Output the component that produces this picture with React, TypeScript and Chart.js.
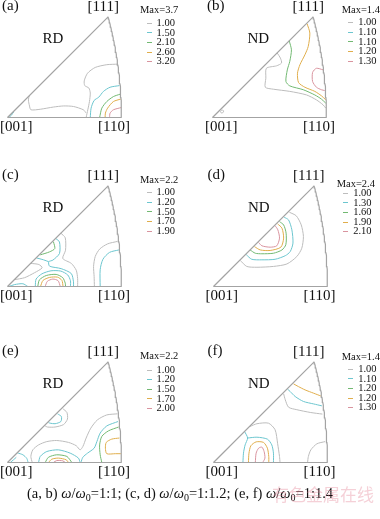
import React, { useEffect, useRef } from "react";
import { Chart, registerables } from "chart.js";

Chart.register(...registerables);

type P = [number, number];

// Stereographic IPF coordinates (x1000). [001] at (0,0), [110] at (414,0), [111] at (366,366)

// ---------- (a) RD, w/w0 = 1:1 ----------
const A_MAX = "3.7";
const A_LEVELS = ["1.00", "1.50", "2.10", "2.60", "3.20"];
const A_L1_RIGHT: P[] = [[401, 194], [361, 192], [319, 182], [291, 161], [279, 133], [281, 116], [296, 107], [301, 89], [298, 58], [292, 28], [286, 0]];
const A_L1_LEFT: P[] = [[79, 79], [76, 64], [80, 42], [85, 28], [119, 30], [167, 38], [204, 42], [240, 40], [276, 28], [286, 16]];
const A_L2: P[] = [[407, 116], [373, 110], [349, 95], [332, 74], [315, 62], [304, 34], [301, 0]];
const A_L2_CORNER: P[] = [[5, 0], [14, 8], [22, 20]];
const A_L3: P[] = [[410, 85], [385, 76], [361, 58], [343, 34], [335, 0]];
const A_L4: P[] = [[412, 67], [385, 58], [364, 34], [356, 16], [355, 0]];
const A_L5: P[] = [[413, 36], [385, 28], [373, 16], [371, 0]];

// ---------- (b) ND, w/w0 = 1:1 ----------
const B_MAX = "1.4";
const B_LEVELS = ["1.00", "1.10", "1.10", "1.20", "1.30"];
const B_L1: P[] = [[235, 235], [247, 216], [251, 198], [233, 188], [196, 179], [194, 143], [192, 110], [221, 103], [281, 95], [342, 82], [378, 64], [402, 46], [412, 34]];
const B_L1_BLOB: P[] = [[29, 22], [34, 27], [41, 24], [37, 17], [31, 17], [29, 22]];
const B_L3: P[] = [[279, 279], [287, 246], [281, 204], [272, 173], [267, 131], [281, 115], [330, 101], [372, 82], [396, 67], [412, 52]];
const B_L4: P[] = [[344, 341], [354, 307], [348, 258], [336, 228], [318, 192], [309, 161], [313, 127], [336, 110], [372, 95], [396, 79], [412, 64]];
const B_L5: P[] = [[403, 173], [378, 179], [364, 164], [364, 131], [378, 110], [396, 101], [408, 98]];

// ---------- (c) RD, w/w0 = 1:1.2 ----------
const C_MAX = "2.2";
const C_LEVELS = ["1.00", "1.20", "1.50", "1.70", "1.90"];
const C_L1_RIGHT: P[] = [[400, 164], [364, 155], [335, 136], [319, 109], [313, 73], [315, 36], [316, 0]];
const C_L2_RIGHT: P[] = [[405, 133], [371, 124], [347, 99], [337, 61], [337, 0]];
const C_L1_MID: P[] = [[194, 194], [210, 177], [211, 132], [201, 102], [232, 84], [250, 59], [255, 29], [255, 0]];
const C_L1_OVAL: P[] = [[26, 25], [62, 32], [98, 50], [126, 68], [114, 80], [85, 84]];
const C_L2_UPPER: P[] = [[176, 174], [189, 162], [189, 120], [165, 96], [150, 90], [153, 74], [195, 65], [232, 47], [240, 17], [240, 0]];
const C_L2_LINK: P[] = [[105, 104], [131, 97], [150, 90]];
const C_L2_CORNER: P[] = [[5, 0], [26, 7], [56, 10], [74, 0]];
const C_L2_ARCH: P[] = [[101, 0], [104, 27], [125, 46], [158, 57], [194, 56], [219, 42], [229, 21], [229, 0]];
const C_L3_HYP: P[] = [[167, 163], [172, 138], [153, 126], [119, 115]];
const C_L3_ARCH: P[] = [[110, 0], [116, 24], [141, 40], [177, 44], [201, 32], [210, 12], [211, 0]];
const C_L4_ARCH: P[] = [[120, 0], [129, 22], [153, 33], [182, 34], [198, 22], [202, 0]];
const C_L5_ARCH: P[] = [[137, 0], [145, 19], [165, 27], [184, 21], [192, 0]];

// ---------- (d) ND, w/w0 = 1:1.2 ----------
const D_MAX = "2.4";
const D_LEVELS = ["1.00", "1.30", "1.60", "1.90", "2.10"];
const D_L1: P[] = [[276, 270], [301, 257], [319, 224], [327, 182], [321, 139], [303, 109], [267, 82], [218, 73], [158, 70], [121, 73], [97, 95]];
const D_L2: P[] = [[257, 252], [273, 242], [285, 206], [289, 158], [279, 127], [261, 112], [224, 99], [176, 97], [139, 99], [119, 116]];
const D_L3: P[] = [[240, 236], [255, 224], [264, 194], [263, 152], [249, 133], [218, 121], [176, 119], [152, 121], [133, 133]];
const D_L4: P[] = [[233, 228], [249, 212], [255, 176], [245, 143], [206, 131], [170, 133], [149, 145]];
const D_L5: P[] = [[224, 221], [234, 206], [240, 176], [230, 148], [206, 143], [176, 148], [164, 160]];

// ---------- (e) RD, w/w0 = 1:1.4 ----------
const E_MAX = "2.2";
const E_LEVELS = ["1.00", "1.20", "1.50", "1.70", "2.00"];
const E_L1_TOP: P[] = [[201, 196], [216, 182], [218, 158], [204, 138], [173, 129], [145, 129], [137, 133]];
const E_L2_TOP: P[] = [[182, 177], [196, 167], [194, 149], [173, 141], [155, 143], [149, 145]];
const E_L1_SNAKE: P[] = [[400, 177], [361, 173], [327, 155], [303, 125], [286, 89], [274, 58], [264, 46], [250, 61], [222, 73], [179, 80], [143, 76], [113, 64], [92, 46], [85, 22], [90, 0]];
const E_L2_RIGHT: P[] = [[402, 149], [361, 133], [337, 107], [325, 76], [315, 52], [291, 34], [274, 19], [267, 0]];
const E_L2_ARCH: P[] = [[113, 0], [119, 22], [143, 40], [185, 46], [228, 34], [258, 16], [264, 0]];
const E_L2_CORNER_A: P[] = [[10, 0], [22, 10], [32, 19]];
const E_L2_CORNER_B: P[] = [[36, 35], [56, 28], [70, 15], [75, 0]];
const E_L3_RIGHT: P[] = [[404, 129], [367, 115], [343, 95], [335, 64], [337, 28], [343, 0]];
const E_L3_ARCH: P[] = [[137, 0], [149, 19], [179, 28], [216, 22], [234, 0]];
const E_L4_RIGHT: P[] = [[407, 89], [379, 85], [359, 73], [356, 52], [361, 32], [392, 32], [412, 32]];
const E_L4_ARCH: P[] = [[149, 0], [161, 12], [185, 16], [213, 10], [222, 0]];
const E_L5_ARCH: P[] = [[167, 0], [179, 7], [201, 6], [210, 0]];

// ---------- (f) ND, w/w0 = 1:1.4 ----------
const F_MAX = "1.4";
const F_LEVELS = ["1.00", "1.10", "1.20", "1.20", "1.30"];
const F_L1_TOP: P[] = [[255, 250], [261, 228], [273, 201], [303, 192], [352, 182], [396, 176]];
const F_L2_TOP: P[] = [[269, 267], [279, 258], [297, 240], [327, 222], [364, 213], [394, 206]];
const F_L4_TOP: P[] = [[291, 286], [309, 276], [333, 264], [364, 252], [390, 242]];
const F_L1_BR: P[] = [[406, 76], [376, 68], [354, 46], [345, 22], [342, 0]];
const F_L1_LEFT: P[] = [[133, 131], [158, 141], [200, 143], [224, 119], [233, 70], [240, 22], [242, 0]];
const F_L2_LEFT: P[] = [[107, 0], [109, 34], [115, 64], [124, 89], [113, 113]];
const F_L2_ARCH: P[] = [[124, 89], [158, 92], [196, 85], [212, 64], [218, 34], [218, 0]];
const F_L4_ARCH: P[] = [[127, 0], [129, 34], [136, 61], [155, 75], [182, 73], [196, 52], [201, 22], [201, 0]];
const F_L5_ARCH: P[] = [[152, 0], [155, 34], [164, 52], [176, 56], [184, 40], [187, 16], [179, 0]];

const LEVEL_COLORS = ["#bdbdbd", "#6cc6cf", "#72b972", "#e0ae4c", "#d9949f"];
const FRAME_COLOR = "#a3a3a3";
const SERIF = '"Liberation Serif", "Times New Roman", serif';

type Contour = { lv: number; pts: P[] };
type Panel = {
  tag: string;
  dir: string;
  max: string;
  levels: string[];
  contours: Contour[];
  ox: number; // pixel position of [001]
  oy: number;
  legendX: number;
  maxY: number;
  rowY: number;
};

const PANELS: Panel[] = [
  {
    tag: "(a)", dir: "RD", max: A_MAX, levels: A_LEVELS, ox: 7.5, oy: 117.5, legendX: 140, maxY: 10, rowY: 23.3,
    contours: [
      { lv: 0, pts: A_L1_RIGHT }, { lv: 0, pts: A_L1_LEFT }, { lv: 1, pts: A_L2 }, { lv: 1, pts: A_L2_CORNER },
      { lv: 2, pts: A_L3 }, { lv: 3, pts: A_L4 }, { lv: 4, pts: A_L5 },
    ],
  },
  {
    tag: "(b)", dir: "ND", max: B_MAX, levels: B_LEVELS, ox: 212.5, oy: 117.5, legendX: 341.7, maxY: 10, rowY: 22.7,
    contours: [
      { lv: 0, pts: B_L1 }, { lv: 0, pts: B_L1_BLOB }, { lv: 2, pts: B_L3 }, { lv: 3, pts: B_L4 }, { lv: 4, pts: B_L5 },
    ],
  },
  {
    tag: "(c)", dir: "RD", max: C_MAX, levels: C_LEVELS, ox: 7.5, oy: 286.5, legendX: 140, maxY: 180.7, rowY: 192.7,
    contours: [
      { lv: 0, pts: C_L1_RIGHT }, { lv: 1, pts: C_L2_RIGHT }, { lv: 0, pts: C_L1_MID }, { lv: 0, pts: C_L1_OVAL },
      { lv: 1, pts: C_L2_UPPER }, { lv: 1, pts: C_L2_LINK }, { lv: 1, pts: C_L2_CORNER }, { lv: 1, pts: C_L2_ARCH },
      { lv: 2, pts: C_L3_HYP }, { lv: 2, pts: C_L3_ARCH }, { lv: 3, pts: C_L4_ARCH }, { lv: 4, pts: C_L5_ARCH },
    ],
  },
  {
    tag: "(d)", dir: "ND", max: D_MAX, levels: D_LEVELS, ox: 213, oy: 286.5, legendX: 336.7, maxY: 184, rowY: 193.3,
    contours: [
      { lv: 0, pts: D_L1 }, { lv: 1, pts: D_L2 }, { lv: 2, pts: D_L3 }, { lv: 3, pts: D_L4 }, { lv: 4, pts: D_L5 },
    ],
  },
  {
    tag: "(e)", dir: "RD", max: E_MAX, levels: E_LEVELS, ox: 7.5, oy: 462.5, legendX: 140, maxY: 356.7, rowY: 370,
    contours: [
      { lv: 0, pts: E_L1_TOP }, { lv: 1, pts: E_L2_TOP }, { lv: 0, pts: E_L1_SNAKE }, { lv: 1, pts: E_L2_RIGHT },
      { lv: 1, pts: E_L2_ARCH }, { lv: 1, pts: E_L2_CORNER_A }, { lv: 1, pts: E_L2_CORNER_B },
      { lv: 2, pts: E_L3_RIGHT }, { lv: 2, pts: E_L3_ARCH }, { lv: 3, pts: E_L4_RIGHT }, { lv: 3, pts: E_L4_ARCH },
      { lv: 4, pts: E_L5_ARCH },
    ],
  },
  {
    tag: "(f)", dir: "ND", max: F_MAX, levels: F_LEVELS, ox: 213, oy: 462.5, legendX: 341.7, maxY: 357.3, rowY: 369.3,
    contours: [
      { lv: 0, pts: F_L1_TOP }, { lv: 1, pts: F_L2_TOP }, { lv: 3, pts: F_L4_TOP }, { lv: 0, pts: F_L1_BR },
      { lv: 0, pts: F_L1_LEFT }, { lv: 1, pts: F_L2_LEFT }, { lv: 1, pts: F_L2_ARCH }, { lv: 3, pts: F_L4_ARCH },
      { lv: 4, pts: F_L5_ARCH },
    ],
  },
];

// chart geometry
const PX_PER_UNIT = 0.275;
const CW = 130;
const CH = 118;
const PAD = 20;
const X_MIN = -PAD;
const X_MAX = X_MIN + CW / PX_PER_UNIT;
const Y_MIN = -PAD;
const Y_MAX = Y_MIN + CH / PX_PER_UNIT;

function frameDatasets() {
  const v110 = 1000 * Math.tan(Math.PI / 8);
  const v111 = 1000 / (Math.sqrt(3) + 1);
  const arc: { x: number; y: number }[] = [];
  for (let i = 0; i <= 40; i++) {
    const t = i / 40;
    const X = 1000 / (Math.sqrt(2 + t * t) + 1);
    arc.push({ x: X, y: t * X });
  }
  const common = { showLine: true, borderColor: FRAME_COLOR, borderWidth: 1.2, pointRadius: 0, tension: 0, fill: false };
  return [
    { ...common, data: [{ x: 0, y: 0 }, { x: v110, y: 0 }] },
    { ...common, data: [{ x: 0, y: 0 }, { x: v111, y: v111 }] },
    { ...common, data: arc },
  ];
}

function IPFChart({ panel }: { panel: Panel }) {
  const ref = useRef<HTMLCanvasElement>(null);
  useEffect(() => {
    if (!ref.current) return;
    const contourSets = panel.contours.map((c) => ({
      data: c.pts.map(([x, y]) => ({ x, y })),
      showLine: true,
      borderColor: LEVEL_COLORS[c.lv],
      borderWidth: 1,
      pointRadius: 0,
      tension: 0.25,
      fill: false,
    }));
    const chart = new Chart(ref.current, {
      type: "scatter",
      data: { datasets: [...frameDatasets(), ...contourSets] as any },
      options: {
        animation: false,
        responsive: false,
        events: [],
        layout: { padding: 0 },
        plugins: { legend: { display: false }, tooltip: { enabled: false } },
        scales: {
          x: { type: "linear", min: X_MIN, max: X_MAX, display: false },
          y: { type: "linear", min: Y_MIN, max: Y_MAX, display: false },
        },
      },
    });
    return () => chart.destroy();
  }, [panel]);
  const left = panel.ox - PAD * PX_PER_UNIT;
  const top = panel.oy - (CH - PAD * PX_PER_UNIT);
  return (
    <canvas
      ref={ref}
      width={CW}
      height={CH}
      style={{ position: "absolute", left, top, width: CW, height: CH }}
    />
  );
}

function Txt({ x, y, size, children, style }: { x: number; y: number; size: number; children: React.ReactNode; style?: React.CSSProperties }) {
  return (
    <div
      style={{
        position: "absolute",
        left: x,
        top: y,
        fontFamily: SERIF,
        fontSize: size,
        lineHeight: `${size}px`,
        whiteSpace: "nowrap",
        color: "#111",
        ...style,
      }}
    >
      {children}
    </div>
  );
}

function PanelView({ panel }: { panel: Panel }) {
  const LF = 10.5;
  const LS = 15;
  const textX = panel.legendX + 16.5;
  return (
    <>
      <IPFChart panel={panel} />
      <Txt x={panel.ox - 5.5} y={panel.oy - 101 - 19} size={LS}>{panel.tag}</Txt>
      <Txt x={panel.ox + 35} y={panel.oy - 79 - 8} size={LS}>{panel.dir}</Txt>
      <Txt x={panel.ox + 80} y={panel.oy - 110 - 9} size={LS}>[111]</Txt>
      <Txt x={panel.ox - 7.5} y={panel.oy + 10 - 8.5} size={LS}>[001]</Txt>
      <Txt x={panel.ox + 90.5} y={panel.oy + 10 - 8.5} size={LS}>[110]</Txt>
      <Txt x={panel.legendX} y={panel.maxY - LF * 0.5} size={LF}>Max={panel.max}</Txt>
      {panel.levels.map((lv, i) => {
        const cy = panel.rowY + i * 9.6;
        return (
          <React.Fragment key={i}>
            <div
              style={{
                position: "absolute",
                left: textX - 10,
                top: cy - 0.5,
                width: 5,
                height: 0,
                borderTop: `1px solid ${LEVEL_COLORS[i]}`,
              }}
            />
            <Txt x={textX} y={cy - LF * 0.5} size={LF}>{lv}</Txt>
          </React.Fragment>
        );
      })}
    </>
  );
}

const CAPTION_PARTS: [string, string][] = [
  ["(a, b) ", "1:1; "],
  ["(c, d) ", "1:1.2; "],
  ["(e, f) ", "1:1.4"],
];

export default function App() {
  return (
    <div
      style={{
        position: "absolute",
        left: 0,
        top: 0,
        width: 380,
        height: 519,
        overflow: "hidden",
        background: "#fff",
      }}
    >
      {PANELS.map((p) => (
        <PanelView key={p.tag} panel={p} />
      ))}
      <Txt x={27} y={486} size={14.5}>
        {CAPTION_PARTS.map(([lab, ratio], i) => (
          <React.Fragment key={i}>
            {lab}
            <i>ω</i>/<i>ω</i>
            <sub style={{ fontSize: 10, verticalAlign: "-3px", lineHeight: 0 }}>0</sub>={ratio}
          </React.Fragment>
        ))}
      </Txt>
      <Txt
        x={272}
        y={485}
        size={17}
        style={{ fontFamily: '"Noto Sans CJK SC", sans-serif', color: "rgba(226,120,140,0.35)" }}
      >
        有色金属在线
      </Txt>
    </div>
  );
}
